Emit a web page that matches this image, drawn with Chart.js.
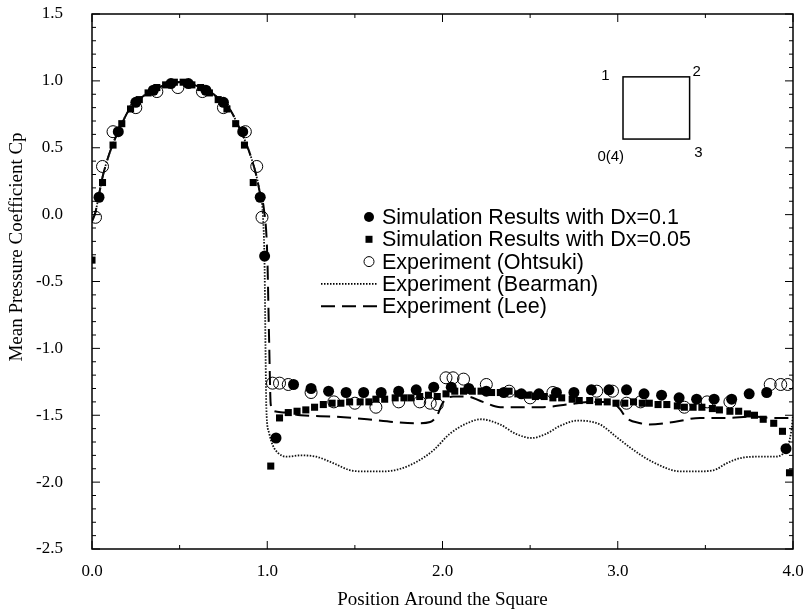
<!DOCTYPE html>
<html>
<head>
<meta charset="utf-8">
<script src="https://cdn.jsdelivr.net/npm/chart.js@4.4.1/dist/chart.umd.min.js"></script>
<style>
  html, body { margin: 0; padding: 0; background: #fff; }
</style>
</head>
<body>
<canvas id="cp-chart" width="810" height="612"></canvas>
<script>
// Simulation, Dx = 0.1 (filled circles)
var sim01X = [0.04, 0.15, 0.25, 0.35, 0.45, 0.55, 0.65, 0.75, 0.86, 0.96, 0.985,
  1.05, 1.15, 1.25, 1.35, 1.45, 1.55, 1.65, 1.75, 1.85, 1.95,
  2.05, 2.15, 2.25, 2.35, 2.45, 2.55, 2.65, 2.75, 2.85, 2.95,
  3.05, 3.15, 3.25, 3.35, 3.45, 3.55, 3.65, 3.75, 3.85, 3.96];
var sim01Y = [0.13, 0.62, 0.84, 0.93, 0.98, 0.98, 0.93, 0.84, 0.62, 0.13, -0.31,
  -1.67, -1.27, -1.30, -1.32, -1.33, -1.33, -1.33, -1.32, -1.31, -1.29,
  -1.29, -1.30, -1.32, -1.33, -1.34, -1.34, -1.33, -1.33, -1.31, -1.31,
  -1.31, -1.34, -1.35, -1.37, -1.38, -1.38, -1.38, -1.34, -1.33, -1.75];

// Simulation, Dx = 0.05 (filled squares)
var sim005X = [0.0, 0.06, 0.12, 0.17, 0.22, 0.27, 0.32, 0.37, 0.42, 0.47, 0.52, 0.57, 0.62, 0.67, 0.72, 0.77, 0.82, 0.87, 0.92,
  1.02, 1.07, 1.12, 1.17, 1.22, 1.27, 1.32, 1.37, 1.42, 1.47, 1.53, 1.58, 1.62, 1.67, 1.73, 1.78, 1.82, 1.87, 1.92, 1.97,
  2.02, 2.07, 2.12, 2.17, 2.22, 2.28, 2.33, 2.38, 2.43, 2.49, 2.53, 2.58, 2.63, 2.68, 2.74, 2.78, 2.84, 2.89, 2.94, 2.99,
  3.04, 3.09, 3.14, 3.18, 3.23, 3.28, 3.34, 3.38, 3.43, 3.48, 3.54, 3.58, 3.64, 3.69, 3.74, 3.78, 3.83, 3.89, 3.94, 3.98];
var sim005Y = [-0.34, 0.24, 0.52, 0.68, 0.79, 0.86, 0.91, 0.95, 0.97, 0.99, 0.99, 0.97, 0.95, 0.91, 0.86, 0.79, 0.68, 0.52, 0.24,
  -1.88, -1.52, -1.48, -1.47, -1.46, -1.44, -1.42, -1.41, -1.41, -1.40, -1.40, -1.40, -1.38, -1.38, -1.37, -1.37, -1.37, -1.36, -1.35, -1.36,
  -1.34, -1.32, -1.32, -1.32, -1.32, -1.33, -1.33, -1.32, -1.34, -1.35, -1.36, -1.36, -1.37, -1.37, -1.38, -1.39, -1.39, -1.40, -1.40, -1.41,
  -1.41, -1.40, -1.41, -1.41, -1.42, -1.42, -1.43, -1.44, -1.44, -1.44, -1.45, -1.46, -1.47, -1.47, -1.49, -1.50, -1.53, -1.56, -1.62, -1.93];

// Experiment (Ohtsuki), open circles
var ohtX = [0.02, 0.06, 0.12, 0.25, 0.37, 0.49, 0.63, 0.75, 0.875, 0.94, 0.97,
  1.03, 1.07, 1.12, 1.25, 1.38, 1.50, 1.62, 1.75, 1.87, 1.93, 1.97,
  2.02, 2.06, 2.12, 2.25, 2.38, 2.50, 2.63, 2.88, 2.97,
  3.05, 3.13, 3.38, 3.51, 3.64, 3.87, 3.93, 3.97];
var ohtY = [-0.02, 0.36, 0.62, 0.80, 0.92, 0.95, 0.92, 0.80, 0.62, 0.36, -0.02,
  -1.26, -1.26, -1.27, -1.33, -1.40, -1.41, -1.44, -1.40, -1.40, -1.41, -1.42,
  -1.22, -1.22, -1.23, -1.27, -1.32, -1.37, -1.33, -1.32, -1.32,
  -1.41, -1.40, -1.44, -1.40, -1.40, -1.27, -1.27, -1.27];

// Experiment (Bearman), dotted line
var bearX = [0.0, 0.02, 0.04, 0.06, 0.09, 0.12, 0.16, 0.21, 0.27, 0.34, 0.42, 0.5, 0.58, 0.66, 0.73, 0.79, 0.84, 0.88, 0.91, 0.94, 0.96, 0.975,
  0.985, 0.99, 0.995, 1.01, 1.03, 1.06, 1.11, 1.19, 1.28, 1.38, 1.47, 1.56, 1.66, 1.76, 1.85, 1.95,
  2.04, 2.14, 2.22, 2.33, 2.42, 2.51, 2.59, 2.67, 2.77, 2.90, 2.99,
  3.09, 3.20, 3.36, 3.45, 3.55, 3.62, 3.70, 3.80, 3.89, 3.96, 3.99, 4.0];
var bearY = [-0.05, 0.02, 0.15, 0.28, 0.42, 0.53, 0.65, 0.78, 0.86, 0.93, 0.97, 0.99, 0.97, 0.93, 0.86, 0.78, 0.65, 0.53, 0.42, 0.28, 0.15, 0.0,
  -0.4, -1.0, -1.45, -1.63, -1.72, -1.78, -1.81, -1.80, -1.81, -1.86, -1.91, -1.92, -1.92, -1.90, -1.85, -1.76,
  -1.64, -1.56, -1.53, -1.57, -1.64, -1.67, -1.64, -1.58, -1.54, -1.57, -1.66,
  -1.76, -1.85, -1.92, -1.92, -1.91, -1.86, -1.82, -1.81, -1.81, -1.76, -1.62, -1.50];

// Experiment (Lee), dashed line
var leeX = [0.0, 0.02, 0.04, 0.06, 0.09, 0.12, 0.16, 0.21, 0.27, 0.34, 0.42, 0.5, 0.58, 0.66, 0.73, 0.79, 0.84, 0.88, 0.91, 0.94, 0.96, 0.98,
  1.0, 1.01, 1.02, 1.04, 1.1, 1.19, 1.38, 1.57, 1.72, 1.85, 1.93, 1.97,
  2.0, 2.06, 2.14, 2.23, 2.33, 2.45, 2.56, 2.71, 2.84, 2.96,
  3.01, 3.05, 3.13, 3.18, 3.32, 3.47, 3.62, 3.77, 3.89, 4.0];
var leeY = [-0.05, 0.02, 0.15, 0.28, 0.42, 0.53, 0.65, 0.78, 0.86, 0.93, 0.97, 0.99, 0.97, 0.93, 0.86, 0.78, 0.65, 0.53, 0.42, 0.28, 0.15, 0.05,
  -0.3, -0.9, -1.42, -1.47, -1.48, -1.50, -1.51, -1.53, -1.55, -1.56, -1.55, -1.50,
  -1.41, -1.36, -1.36, -1.40, -1.44, -1.44, -1.44, -1.42, -1.40, -1.40,
  -1.45, -1.52, -1.56, -1.57, -1.55, -1.52, -1.52, -1.51, -1.52, -1.52];

var xTicks = [0, 1, 2, 3, 4];
var yTicks = [-2.5, -2.0, -1.5, -1.0, -0.5, 0.0, 0.5, 1.0, 1.5];
var legendLabels = [
  'Simulation Results with Dx=0.1',
  'Simulation Results with Dx=0.05',
  'Experiment (Ohtsuki)',
  'Experiment (Bearman)',
  'Experiment (Lee)'
];
var yTitle = 'Mean Pressure Coefficient Cp';
// corner labels of the little square sketch
var insetLabels = ['1', '2', '0(4)', '3'];

function pairs(xs, ys) {
  return xs.map(function (v, i) { return {x: v, y: ys[i]}; });
}

var SERIF = '"Liberation Serif", "Times New Roman", serif';
var SANS = '"Liberation Sans", Arial, Helvetica, sans-serif';

// box around the plot with inward ticks
var framePlugin = {
  id: 'frame',
  afterDatasetsDraw: function (chart) {
    var ctx = chart.ctx, a = chart.chartArea, xs = chart.scales.x, ys = chart.scales.y;
    ctx.save();
    ctx.strokeStyle = '#000';
    ctx.lineWidth = 1;
    ctx.beginPath();
    var k, p, len;
    for (k = 0; k <= 40; k++) {
      p = ys.getPixelForValue(yTicks[0] + k * 0.1);
      len = k % 5 === 0 ? 8 : 4;
      ctx.moveTo(a.left, p); ctx.lineTo(a.left + len, p);
      ctx.moveTo(a.right, p); ctx.lineTo(a.right - len, p);
    }
    for (k = 0; k <= 8; k++) {
      p = xs.getPixelForValue(k * 0.5);
      len = k % 2 === 0 ? 8 : 4;
      ctx.moveTo(p, a.bottom); ctx.lineTo(p, a.bottom - len);
      ctx.moveTo(p, a.top); ctx.lineTo(p, a.top + len);
    }
    ctx.stroke();
    ctx.lineWidth = 1.5;
    ctx.strokeRect(a.left, a.top, a.right - a.left, a.bottom - a.top);
    ctx.restore();
  }
};

// the small square with its corner numbers, placed in data units
var insetPlugin = {
  id: 'inset',
  afterDatasetsDraw: function (chart) {
    var ctx = chart.ctx, xs = chart.scales.x, ys = chart.scales.y;
    var x1 = xs.getPixelForValue(3.03), x2 = xs.getPixelForValue(3.41);
    var y1 = ys.getPixelForValue(1.03), y2 = ys.getPixelForValue(0.565);
    ctx.save();
    ctx.strokeStyle = '#000';
    ctx.lineWidth = 1.5;
    ctx.strokeRect(x1, y1, x2 - x1, y2 - y1);
    ctx.fillStyle = '#000';
    ctx.font = '15px ' + SANS;
    ctx.textAlign = 'center';
    ctx.textBaseline = 'middle';
    ctx.fillText(insetLabels[0], xs.getPixelForValue(2.93), ys.getPixelForValue(1.04));
    ctx.fillText(insetLabels[1], xs.getPixelForValue(3.45), ys.getPixelForValue(1.07));
    ctx.fillText(insetLabels[2], xs.getPixelForValue(2.96), ys.getPixelForValue(0.43));
    ctx.fillText(insetLabels[3], xs.getPixelForValue(3.46), ys.getPixelForValue(0.46));
    ctx.restore();
  }
};

// y title sits a bit above the middle of the axis, as in the original
var yTitlePlugin = {
  id: 'yTitle',
  afterDraw: function (chart) {
    var ctx = chart.ctx;
    ctx.save();
    ctx.translate(17, 247);
    ctx.rotate(-Math.PI / 2);
    ctx.fillStyle = '#000';
    ctx.font = '19px ' + SERIF;
    ctx.textAlign = 'center';
    ctx.textBaseline = 'middle';
    ctx.fillText(yTitle, 0, 0);
    ctx.restore();
  }
};

// legend sits inside the plot
var legendPlugin = {
  id: 'cpLegend',
  afterDraw: function (chart) {
    var ctx = chart.ctx;
    var textX = 382, markX = 369, rowY = 217, rowH = 22.3;
    ctx.save();
    ctx.fillStyle = '#000';
    ctx.strokeStyle = '#000';
    ctx.font = '21.5px ' + SANS;
    ctx.textBaseline = 'middle';
    legendLabels.forEach(function (label, i) {
      var y = rowY + i * rowH;
      if (i === 0) {
        ctx.beginPath(); ctx.arc(markX, y, 5, 0, Math.PI * 2); ctx.fill();
      } else if (i === 1) {
        ctx.fillRect(markX - 3.5, y - 3.5, 7, 7);
      } else if (i === 2) {
        ctx.lineWidth = 1;
        ctx.beginPath(); ctx.arc(markX, y, 5, 0, Math.PI * 2); ctx.stroke();
      } else {
        ctx.beginPath();
        if (i === 3) { ctx.setLineDash([1.5, 1.5]); ctx.lineWidth = 1.6; }
        else { ctx.setLineDash([14, 7]); ctx.lineWidth = 2; }
        ctx.moveTo(321, y); ctx.lineTo(377, y);
        ctx.stroke();
        ctx.setLineDash([]);
      }
      ctx.fillText(label, textX, y + 1);
    });
    ctx.restore();
  }
};

var ctx = document.getElementById('cp-chart').getContext('2d');
var cpChart = new Chart(ctx, {
  type: 'scatter',
  data: {
    datasets: [{
      label: legendLabels[0],
      data: pairs(sim01X, sim01Y),
      pointStyle: 'circle',
      pointRadius: 5.5,
      backgroundColor: '#000',
      borderWidth: 0
    }, {
      label: legendLabels[1],
      data: pairs(sim005X, sim005Y),
      pointStyle: 'rect',
      pointRadius: 5,
      backgroundColor: '#000',
      borderWidth: 0
    }, {
      label: legendLabels[2],
      data: pairs(ohtX, ohtY),
      pointStyle: 'circle',
      pointRadius: 6,
      backgroundColor: 'rgba(255,255,255,0)',
      borderColor: '#000',
      borderWidth: 1
    }, {
      label: legendLabels[3],
      data: pairs(bearX, bearY),
      showLine: true,
      pointRadius: 0,
      borderColor: '#111',
      borderWidth: 1.8,
      borderDash: [1.5, 1.5],
      cubicInterpolationMode: 'monotone'
    }, {
      label: legendLabels[4],
      data: pairs(leeX, leeY),
      showLine: true,
      pointRadius: 0,
      borderColor: '#000',
      borderWidth: 2,
      borderDash: [14, 7],
      cubicInterpolationMode: 'monotone'
    }]
  },
  options: {
    responsive: false,
    animation: false,
    devicePixelRatio: 1,
    layout: { autoPadding: false, padding: { left: 0, top: 14, right: 17, bottom: 0 } },
    plugins: { legend: { display: false }, tooltip: { enabled: false } },
    scales: {
      x: {
        type: 'linear',
        min: xTicks[0],
        max: xTicks[xTicks.length - 1],
        // fixed band under the plot; drop the label overhang padding
        afterFit: function (scale) {
          scale.height = 63;
          scale.paddingLeft = 0;
          scale.paddingRight = 0;
        },
        grid: { display: false, drawTicks: false },
        border: { display: false },
        ticks: {
          stepSize: 1,
          padding: 12,
          color: '#000',
          font: { family: SERIF, size: 17 },
          callback: function (v) { return v.toFixed(1); }
        },
        title: {
          display: true,
          text: 'Position Around the Square',
          color: '#000',
          font: { family: SERIF, size: 19 },
          padding: { top: 0, bottom: 1 }
        }
      },
      y: {
        type: 'linear',
        min: yTicks[0],
        max: yTicks[yTicks.length - 1],
        afterFit: function (scale) {
          scale.width = 92;
          scale.paddingTop = 0;
          scale.paddingBottom = 0;
        },
        grid: { display: false, drawTicks: false },
        border: { display: false },
        ticks: {
          stepSize: 0.5,
          padding: 29,
          color: '#000',
          font: { family: SERIF, size: 17 },
          callback: function (v) { return (Math.abs(v) < 1e-9 ? 0 : v).toFixed(1); }
        }
      }
    }
  },
  plugins: [framePlugin, insetPlugin, yTitlePlugin, legendPlugin]
});
</script>
</body>
</html>
